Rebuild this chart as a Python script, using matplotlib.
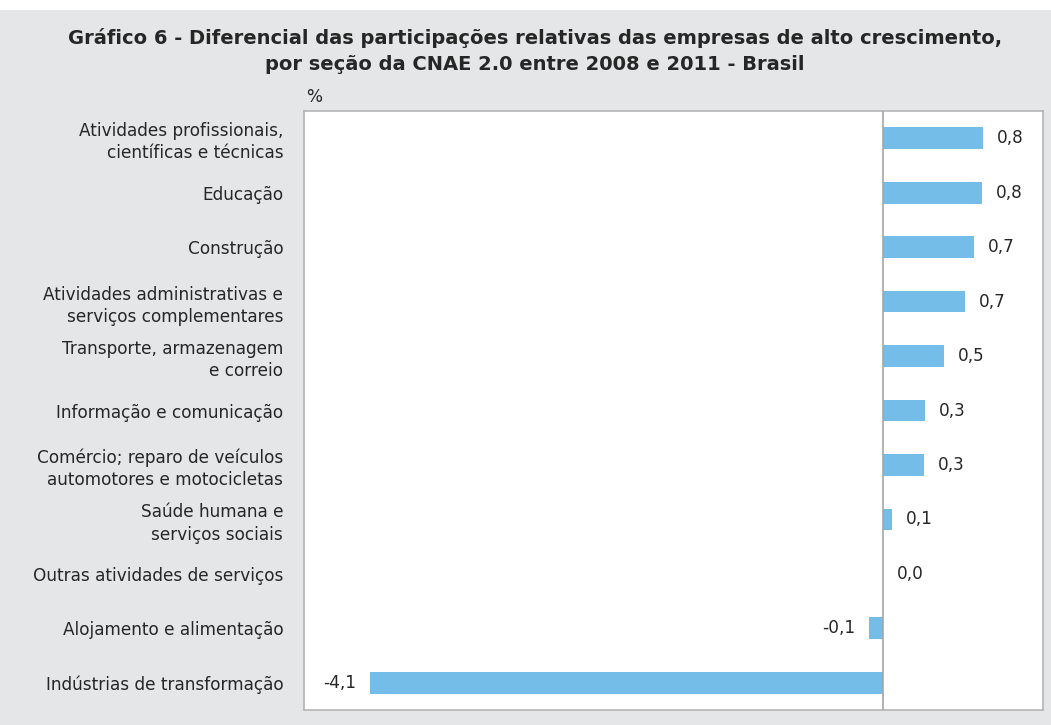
import matplotlib
matplotlib.use('Agg')
import matplotlib.pyplot as plt
from matplotlib.patches import Rectangle

# data (bar lengths), with the printed labels
categories = [
    'Atividades profissionais,\ncientíficas e técnicas',
    'Educação',
    'Construção',
    'Atividades administrativas e\nserviços complementares',
    'Transporte, armazenagem\ne correio',
    'Informação e comunicação',
    'Comércio; reparo de veículos\nautomotores e motocicletas',
    'Saúde humana e\nserviços sociais',
    'Outras atividades de serviços',
    'Alojamento e alimentação',
    'Indústrias de transformação',
]
values = [0.80, 0.79, 0.73, 0.66, 0.49, 0.34, 0.33, 0.07, 0.0, -0.11, -4.10]
value_labels = ['0,8', '0,8', '0,7', '0,7', '0,5', '0,3', '0,3', '0,1', '0,0', '-0,1', '-4,1']

BG = '#e5e6e7'
BAR = '#74bde8'
EDGE = '#b4b4b4'
TXT = '#262626'
FS = 12.2

fig = plt.figure(figsize=(10.51, 7.25), dpi=100, facecolor='white')
fig.patches.append(Rectangle((0, 0), 1, 715 / 725, transform=fig.transFigure,
                             facecolor=BG, edgecolor='none', zorder=-10))

ax = fig.add_axes([304 / 1051, 15 / 725, 739 / 1051, 599 / 725])
ax.set_facecolor('white')

ypos = list(range(len(categories)))
ax.barh(ypos, values, height=0.4, color=BAR, zorder=2)
ax.axvline(0, color='#a6a6a6', lw=1.2, zorder=3)

ax.set_xlim(-4.63, 1.28)
ax.set_ylim(len(categories) - 0.5, -0.5)

for y, v, lab in zip(ypos, values, value_labels):
    if v < 0:
        ax.text(v - 0.11, y, lab, ha='right', va='center', fontsize=FS, color=TXT)
    else:
        ax.text(v + 0.11, y, lab, ha='left', va='center', fontsize=FS, color=TXT)

ax.set_yticks(ypos)
ax.set_yticklabels(categories, fontsize=FS, color=TXT, linespacing=1.3)
ax.tick_params(axis='y', length=0, pad=15)
ax.set_xticks([])
for s in ax.spines.values():
    s.set_color(EDGE)
    s.set_linewidth(1.2)

fig.text(535 / 1051, 1 - 38 / 725,
         'Gráfico 6 - Diferencial das participações relativas das empresas de alto crescimento,',
         ha='center', va='center', fontsize=14.05, fontweight='bold', color=TXT)
fig.text(535 / 1051, 1 - 65 / 725,
         'por seção da CNAE 2.0 entre 2008 e 2011 - Brasil',
         ha='center', va='center', fontsize=14.05, fontweight='bold', color=TXT)
fig.text(306 / 1051, 1 - 97 / 725, '%', ha='left', va='center', fontsize=FS, color=TXT)

fig.savefig('out.png', dpi=100, facecolor=fig.get_facecolor())
